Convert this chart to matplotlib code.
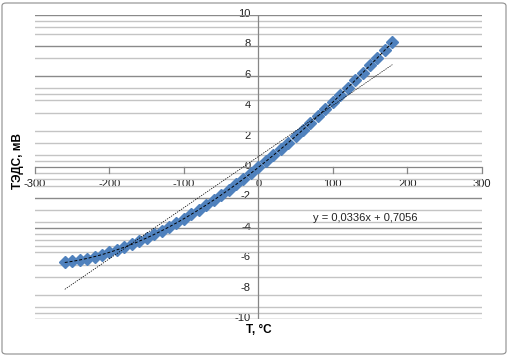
import numpy as np
import matplotlib
matplotlib.use("Agg")
import matplotlib.pyplot as plt
from matplotlib.patches import FancyBboxPatch

# Data: thermo-EMF (mV) vs temperature (deg C)
temps = [-260, -250, -240, -230, -220, -210, -200, -190, -180, -170,
         -160, -150, -140, -130, -120, -110, -100, -90, -80, -70,
         -60, -50, -40, -30, -20, -10, 0, 10, 20, 30,
         40, 50, 60, 70, 80, 90, 100, 110, 120, 130,
         140, 150, 160, 170, 180]
emf = [-6.232, -6.180, -6.105, -6.007, -5.888, -5.753, -5.603, -5.439, -5.261, -5.070,
       -4.865, -4.648, -4.419, -4.177, -3.923, -3.657, -3.379, -3.089, -2.788, -2.476,
       -2.153, -1.819, -1.475, -1.121, -0.757, -0.383, 0.000, 0.391, 0.790, 1.196,
       1.612, 2.036, 2.468, 2.909, 3.358, 3.814, 4.279, 4.750, 5.228, 5.714,
       6.206, 6.704, 7.209, 7.720, 8.237]
lin_slope = 0.0336
lin_intercept = 0.7056
equation_label = "y = 0,0336x + 0,7056"
x_ticks = [-300, -200, -100, 0, 100, 200, 300]
y_ticks = [10, 8, 6, 4, 2, 0, -2, -4, -6, -8, -10]
x_title = "T, °C"
y_title = "ТЭДС, мВ"

# gridlines as they appear in the reference (style)
grid_dark = [10, 8, 6, -2, -4, -10]
grid_light = [9.6, 9.2, 8.8, 7.2, 5.2, 4.8, 4.4, 3.6, 2.4, 1.6, 0.8, 0.4,
              -0.4, -0.8, -1.2, -2.8, -3.6, -4.4, -4.8, -5.2, -5.6, -6.4,
              -7.2, -8.4, -9.2, -9.6]

W, H = 509, 356
fig = plt.figure(figsize=(W / 100, H / 100), dpi=100)
fig.patch.set_facecolor("white")

border = FancyBboxPatch((2 / W, 2 / H), 1 - 5 / W, 1 - 5 / H,
                        boxstyle="round,pad=0,rounding_size=0.008",
                        transform=fig.transFigure, fill=False,
                        edgecolor="#8c8c8c", linewidth=0.8)
fig.patches.append(border)

left, right, top, bottom = 35 / W, 481.7 / W, 15.3 / H, 319.3 / H
ax = fig.add_axes([left, 1 - bottom, right - left, bottom - top])
ax.set_xlim(-300, 300)
ax.set_ylim(-10, 10)
for s in ax.spines.values():
    s.set_visible(False)
ax.set_xticks([])
ax.set_yticks([])

for g in grid_light:
    ax.axhline(g, color="#c4c4c4", linewidth=1.0, zorder=2)
for g in grid_dark:
    ax.axhline(g, color="#8a8a8a", linewidth=1.0, zorder=2)

# axes through zero
ax.axhline(0, color="#868686", linewidth=0.9, zorder=2)
ax.axvline(0, color="#868686", linewidth=0.9, zorder=2)

# x tick marks
for xt in x_ticks:
    ax.plot([xt, xt], [0, -0.35], color="#868686", linewidth=0.9, zorder=2,
            clip_on=False)

font = "Liberation Sans"
# x tick labels
for xt in x_ticks:
    ax.text(xt, -1.08, str(xt), ha="center", va="center", fontsize=8,
            family=font, color="#222222", zorder=1)
# y tick labels
for yt in y_ticks:
    ax.text(-10, yt + 0.08, str(yt), ha="right", va="center", fontsize=8,
            family=font, color="#222222", zorder=1)

# data markers
ax.plot(temps, emf, linestyle="none", marker="D", markersize=6.4,
        color="#4F81BD", markeredgecolor="#4F81BD", zorder=4)

# polynomial trendline through points
t = np.array(temps, dtype=float)
e = np.array(emf, dtype=float)
coef = np.polyfit(t, e, 3)
tt = np.linspace(t.min(), t.max(), 200)
ax.plot(tt, np.polyval(coef, tt), color="black", linewidth=0.7,
        linestyle=(0, (3, 2)), zorder=5)

# linear trendline
tl = np.array([t.min(), t.max()])
ax.plot(tl, lin_slope * tl + lin_intercept, color="black", linewidth=0.5,
        linestyle=(0, (2, 1.5)), zorder=5)

ax.text(73, -3.35, equation_label, ha="left", va="center", fontsize=8,
        family=font, color="#222222", zorder=6)

# axis titles
fig.text(259 / W, 1 - 330 / H, x_title, ha="center", va="center",
         fontsize=8.5, fontweight="bold", family=font)
fig.text(18 / W, 1 - 161 / H, y_title, ha="center", va="center",
         fontsize=8.5, fontweight="bold", family=font, rotation=90)

fig.savefig("out.png", dpi=100)
